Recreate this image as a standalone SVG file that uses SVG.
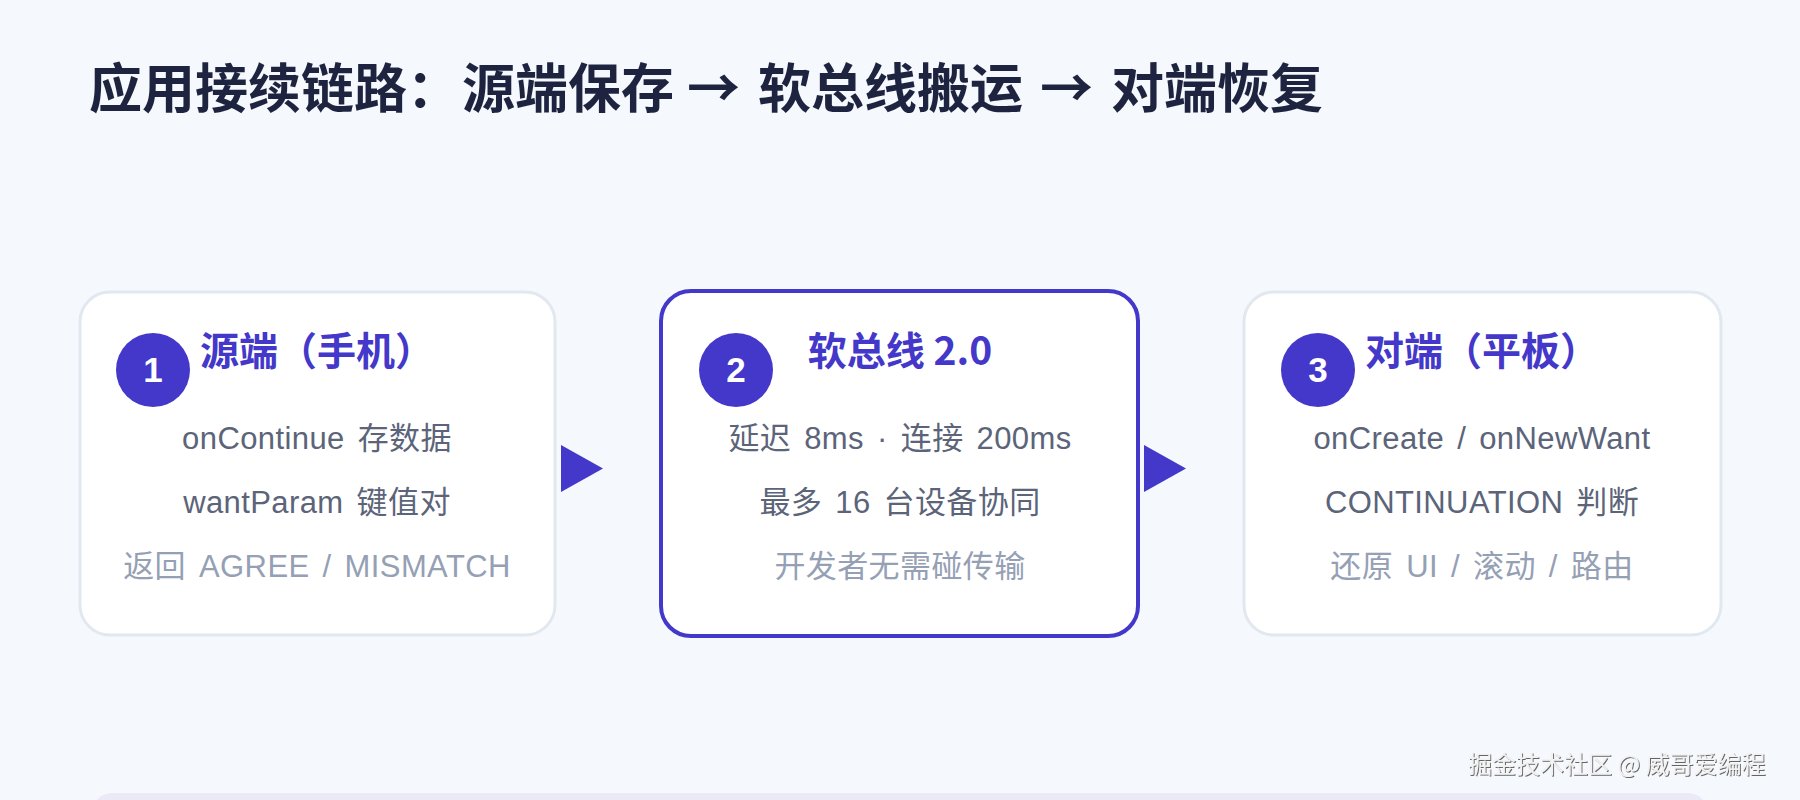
<svg xmlns="http://www.w3.org/2000/svg" width="1800" height="800" viewBox="0 0 1800 800">
<defs>
<style>
.title{font-family:"Noto Sans CJK SC","Noto Sans",sans-serif;font-weight:700;font-size:53px;fill:#1e2440}
.card{fill:#ffffff;stroke:#e2e8f0;stroke-width:3}
.card-hl{fill:#ffffff;stroke:#4338ca;stroke-width:4}
.badge{fill:#4338ca}
.num{font-family:"Liberation Sans","Noto Sans",sans-serif;font-weight:700;font-size:35px;fill:#ffffff;text-anchor:middle}
.head{font-family:"Noto Sans CJK SC","Noto Sans",sans-serif;font-weight:700;font-size:39px;fill:#4338ca;text-anchor:middle}
.line{font-family:"Liberation Sans","Noto Sans CJK SC",sans-serif;font-size:31px;letter-spacing:0.4px;word-spacing:4px;fill:#5b6479;text-anchor:middle}
.note{font-family:"Liberation Sans","Noto Sans CJK SC",sans-serif;font-size:31px;letter-spacing:0.4px;word-spacing:4px;fill:#95a0b4;text-anchor:middle}
.arrow{fill:#4338ca}
.wm{font-family:"Noto Sans CJK SC",sans-serif;font-size:24px;fill:#f2f2f2;filter:url(#sh)}
</style>
<filter id="sh" x="-5%" y="-30%" width="110%" height="160%">
<feDropShadow dx="1" dy="1" stdDeviation="0.6" flood-color="#555555" flood-opacity="0.9"/>
</filter>
</defs>
<rect width="1800" height="800" fill="#f5f8fc"/>
<text class="title" y="108"><tspan x="89">应用接续链路：</tspan><tspan x="462">源端保存</tspan><tspan x="687">→</tspan><tspan x="758">软总线搬运</tspan><tspan x="1040">→</tspan><tspan x="1111">对端恢复</tspan></text>

<g id="connectors">
<polygon class="arrow" points="561,445 603,468.5 561,492"/>
<polygon class="arrow" points="1144,445 1186,468.5 1144,492"/>
</g>

<g id="node-source">
<rect class="card" x="80" y="292" width="475" height="343" rx="30"/>
<circle class="badge" cx="153" cy="370" r="37"/>
<text class="num" x="153" y="382">1</text>
<text class="head" x="317" y="365">源端（手机）</text>
<text class="line" x="317" y="449">onContinue 存数据</text>
<text class="line" x="317" y="513">wantParam 键值对</text>
<text class="note" x="317" y="577">返回 AGREE / MISMATCH</text>
</g>

<g id="node-softbus">
<rect class="card-hl" x="661" y="291" width="477" height="345" rx="30"/>
<circle class="badge" cx="736" cy="370" r="37"/>
<text class="num" x="736" y="382">2</text>
<text class="head" x="900" y="365">软总线 2.0</text>
<text class="line" x="900" y="449">延迟 8ms · 连接 200ms</text>
<text class="line" x="900" y="513">最多 16 台设备协同</text>
<text class="note" x="900" y="577">开发者无需碰传输</text>
</g>

<g id="node-target">
<rect class="card" x="1244" y="292" width="477" height="343" rx="30"/>
<circle class="badge" cx="1318" cy="370" r="37"/>
<text class="num" x="1318" y="382">3</text>
<text class="head" x="1482" y="365">对端（平板）</text>
<text class="line" x="1482" y="449">onCreate / onNewWant</text>
<text class="line" x="1482" y="513">CONTINUATION 判断</text>
<text class="note" x="1482" y="577">还原 UI / 滚动 / 路由</text>
</g>

<rect x="92" y="793" width="1616" height="40" rx="20" fill="#ece9f6"/>
<text class="wm" x="1468" y="773">掘金技术社区 @ 威哥爱编程</text>
</svg>
